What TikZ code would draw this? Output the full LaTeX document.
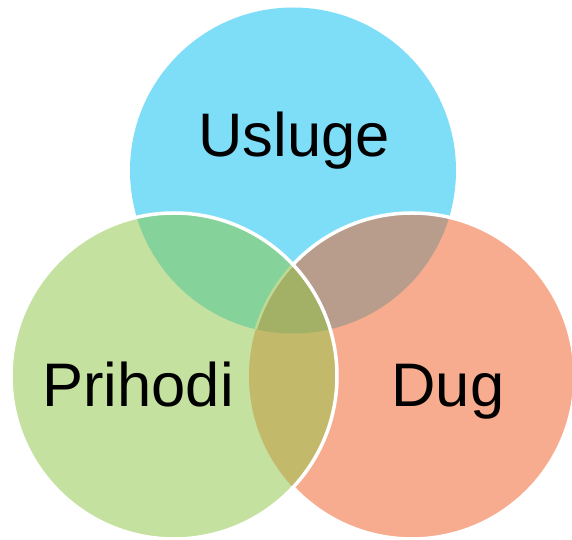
\documentclass[tikz,border=0pt]{standalone}
\usepackage{fontspec}
\setmainfont{Liberation Sans}
\usetikzlibrary{calc}
\definecolor{uslugeblue}{HTML}{7FDEF7}
\definecolor{prihodigreen}{HTML}{C5E1A0}
\definecolor{dugorange}{HTML}{F7AC8F}
\definecolor{usprgreen}{HTML}{85D29B}
\definecolor{usdugbrown}{HTML}{B89D8D}
\definecolor{prdugolive}{HTML}{C3B96A}
\definecolor{allthree}{HTML}{A3B167}
\definecolor{faintline}{HTML}{BDD994}
\def\rr{163}
\tikzset{vennlabel/.style={font=\fontsize{35}{42}\selectfont, anchor=base, inner sep=0pt}}

\begin{document}
\begin{tikzpicture}[x=0.02cm, y=-0.02cm]
			%%%%% START %%%%%
			
			\useasboundingbox (0, 0) rectangle (572, 540);
			
			\coordinate (U) at (293, 170.5);
			\coordinate (P) at (174, 376);
			\coordinate (D) at (412, 376);
			
			\fill[uslugeblue] (U) circle (\rr);
			\fill[dugorange] (D) circle (\rr);
			\begin{scope}
				\clip (U) circle (\rr);
				\fill[usdugbrown] (D) circle (\rr);
			\end{scope}
			\draw[line width=0.07cm, white] (D) circle (\rr);
			
			\fill[prihodigreen] (P) circle (\rr);
			\begin{scope}
				\clip (P) circle (\rr);
				\fill[usprgreen] (U) circle (\rr);
				\fill[prdugolive] (D) circle (\rr);
				\clip (U) circle (\rr);
				\fill[allthree] (D) circle (\rr);
				\draw[line width=0.05cm, faintline] (D) circle (\rr);
			\end{scope}
			\draw[line width=0.07cm, white] (P) circle (\rr);
			
			\node[vennlabel] (usluge) at (294, 157) {Usluge};
			\node[vennlabel] (prihodi) at (138, 407) {Prihodi};
			\node[vennlabel] (dug) at (448, 407) {Dug};
			
			%%%%% END %%%%%
\end{tikzpicture}
\end{document}
